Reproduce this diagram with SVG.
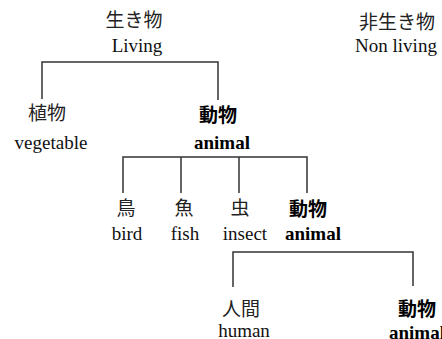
<svg xmlns="http://www.w3.org/2000/svg" width="442" height="339" viewBox="0 0 442 339">
<style>
.jp{font-family:"Noto Sans CJK JP","Noto Sans",sans-serif;font-size:19px;fill:#222;text-anchor:middle}
.en{font-family:"Liberation Serif",serif;font-size:19px;fill:#111;text-anchor:middle}
.b{font-weight:bold;fill:#000}
.ln{fill:none;stroke:#333;stroke-width:1.5}
</style>
<rect width="442" height="339" fill="#fff"/>
<g id="connectors">
<path class="ln" d="M42,99 V62 H218 V100"/>
<path class="ln" d="M123,193 V157 H307 V193 M181,157 V193 M239,157 V193"/>
<path class="ln" d="M233,287 V252 H413 V286"/>
</g>
<g id="living"><text class="jp" x="134" y="27">生き物</text><text class="en" x="137" y="52">Living</text></g>
<g id="nonliving"><text class="jp" x="397" y="29">非生き物</text><text class="en" x="396" y="52">Non living</text></g>
<g id="vegetable"><text class="jp" x="47" y="120">植物</text><text class="en" x="51" y="149">vegetable</text></g>
<g id="animal1"><text class="jp b" x="218" y="122">動物</text><text class="en b" x="222" y="149">animal</text></g>
<g id="bird"><text class="jp" x="126" y="215">鳥</text><text class="en" x="127" y="240">bird</text></g>
<g id="fish"><text class="jp" x="184" y="215">魚</text><text class="en" x="185" y="240">fish</text></g>
<g id="insect"><text class="jp" x="240" y="215">虫</text><text class="en" x="245" y="240">insect</text></g>
<g id="animal2"><text class="jp b" x="308" y="216">動物</text><text class="en b" x="313" y="240">animal</text></g>
<g id="human"><text class="jp" x="241" y="316">人間</text><text class="en" x="244" y="337">human</text></g>
<g id="animal3"><text class="jp b" x="417" y="316">動物</text><text class="en b" x="417" y="339">animal</text></g>
</svg>
